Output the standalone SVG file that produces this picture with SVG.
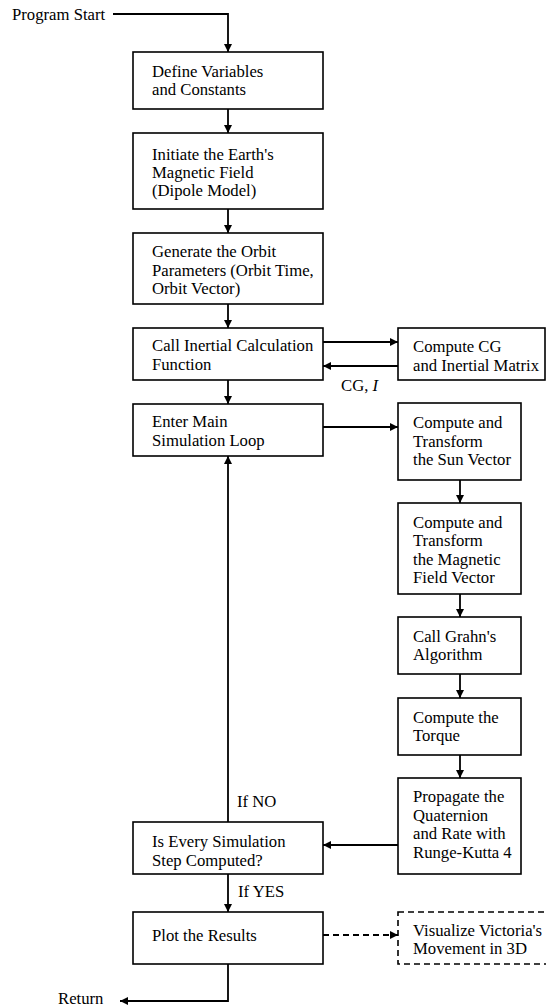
<svg xmlns="http://www.w3.org/2000/svg" width="546" height="1008" viewBox="0 0 546 1008">
<defs>
<marker id="ah" viewBox="0 0 10 10" markerUnits="userSpaceOnUse" markerWidth="9" markerHeight="8" refX="10" refY="5" orient="auto">
<path d="M0,0 L10,5 L0,10 z" fill="#000"/>
</marker>
</defs>
<style>
.box{fill:#fff;stroke:#000;stroke-width:1.6}
.dbox{fill:#fff;stroke:#000;stroke-width:1.6;stroke-dasharray:6 4}
.c{fill:none;stroke:#000;stroke-width:1.8;marker-end:url(#ah)}
.cd{fill:none;stroke:#000;stroke-width:1.8;stroke-dasharray:6 4;marker-end:url(#ah)}
text{font-family:"Liberation Serif","Times New Roman",serif;font-size:16.7px;fill:#000}
</style>
<rect width="546" height="1008" fill="#fff"/>
<g id="connectors">
<path class="c" d="M113,14 H228 V52"/>
<path class="c" d="M228,109 V133"/>
<path class="c" d="M228,209 V233"/>
<path class="c" d="M228,304 V328"/>
<path class="c" d="M228,380 V404"/>
<path class="c" d="M323,342 H398"/>
<path class="c" d="M398,366 H323"/>
<path class="c" d="M323,427 H398"/>
<path class="c" d="M460,480 V503"/>
<path class="c" d="M460,594 V617"/>
<path class="c" d="M460,674 V698"/>
<path class="c" d="M460,755 V778"/>
<path class="c" d="M398,845 H323"/>
<path class="c" d="M228,822 V456"/>
<path class="c" d="M228,874 V912"/>
<path class="cd" d="M323,935 H398"/>
<path class="c" d="M228,964 V1001 H120"/>
<text x="341" y="390.5">CG, <tspan font-style="italic">I</tspan></text>
<text x="237" y="807">If NO</text>
<text x="238" y="897">If YES</text>
</g>
<g id="start"><text x="12" y="19.5">Program Start</text></g>
<g id="define">
<rect class="box" x="133" y="52" width="190" height="57"/>
<text x="152" y="77">Define Variables</text>
<text x="152" y="94.5">and Constants</text>
</g>
<g id="initiate">
<rect class="box" x="133" y="133" width="190" height="76"/>
<text x="152" y="159.5">Initiate the Earth's</text>
<text x="152" y="177.5">Magnetic Field</text>
<text x="152" y="195.5">(Dipole Model)</text>
</g>
<g id="orbit">
<rect class="box" x="133" y="233" width="190" height="71"/>
<text x="152" y="257">Generate the Orbit</text>
<text x="152" y="275.5">Parameters (Orbit Time,</text>
<text x="152" y="294">Orbit Vector)</text>
</g>
<g id="inertial">
<rect class="box" x="133" y="328" width="190" height="52"/>
<text x="152" y="351">Call Inertial Calculation</text>
<text x="152" y="369.5">Function</text>
</g>
<g id="cg">
<rect class="box" x="398" y="328" width="147" height="52"/>
<text x="413" y="352">Compute CG</text>
<text x="413" y="370.5">and Inertial Matrix</text>
</g>
<g id="mainloop">
<rect class="box" x="133" y="404" width="190" height="52"/>
<text x="152" y="427">Enter Main</text>
<text x="152" y="445.5">Simulation Loop</text>
</g>
<g id="sun">
<rect class="box" x="398" y="403" width="123" height="77"/>
<text x="413" y="428">Compute and</text>
<text x="413" y="446.5">Transform</text>
<text x="413" y="465">the Sun Vector</text>
</g>
<g id="magnetic">
<rect class="box" x="398" y="503" width="123" height="91"/>
<text x="413" y="528">Compute and</text>
<text x="413" y="546">Transform</text>
<text x="413" y="564.5">the Magnetic</text>
<text x="413" y="583">Field Vector</text>
</g>
<g id="grahn">
<rect class="box" x="398" y="617" width="123" height="57"/>
<text x="413" y="641.5">Call Grahn's</text>
<text x="413" y="659.5">Algorithm</text>
</g>
<g id="torque">
<rect class="box" x="398" y="698" width="123" height="57"/>
<text x="413" y="723">Compute the</text>
<text x="413" y="741">Torque</text>
</g>
<g id="propagate">
<rect class="box" x="398" y="778" width="123" height="96"/>
<text x="413" y="802">Propagate the</text>
<text x="413" y="820.5">Quaternion</text>
<text x="413" y="839">and Rate with</text>
<text x="413" y="857.5">Runge-Kutta 4</text>
</g>
<g id="check">
<rect class="box" x="133" y="822" width="190" height="52"/>
<text x="152" y="847">Is Every Simulation</text>
<text x="152" y="865.5">Step Computed?</text>
</g>
<g id="plot">
<rect class="box" x="133" y="912" width="190" height="52"/>
<text x="152" y="940.5">Plot the Results</text>
</g>
<g id="visualize">
<rect class="dbox" x="398" y="912" width="160" height="52"/>
<text x="413" y="935.5">Visualize Victoria's</text>
<text x="413" y="954">Movement in 3D</text>
</g>
<g id="return"><text x="58" y="1004">Return</text></g>
</svg>
